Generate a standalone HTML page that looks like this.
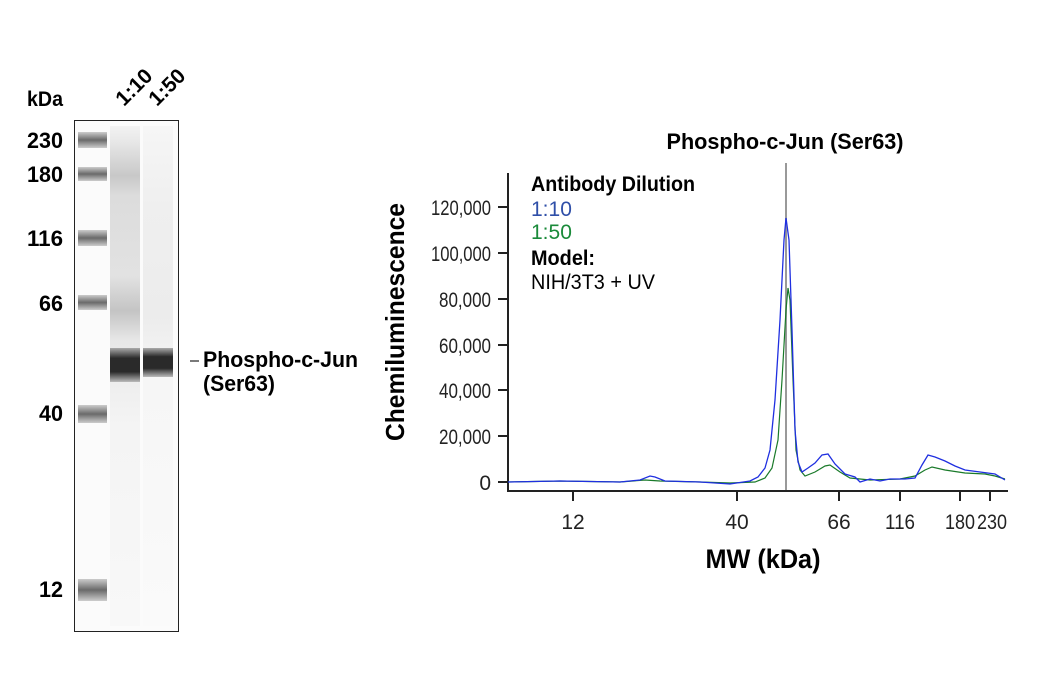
<!DOCTYPE html>
<html><head><style>
html,body{margin:0;padding:0;background:#fff;}
svg{display:block;}
text{font-family:"Liberation Sans Narrow","Liberation Sans",sans-serif;}
.b{font-weight:bold;}
</style></head><body>
<svg width="1040" height="700" viewBox="0 0 1040 700" xmlns="http://www.w3.org/2000/svg">
<defs>
<linearGradient id="l1" x1="0" y1="0" x2="0" y2="1">
<stop offset="0" stop-color="#f2f2f2"/>
<stop offset="0.03" stop-color="#e8e8e8"/>
<stop offset="0.1" stop-color="#c8c8c8"/>
<stop offset="0.14" stop-color="#dcdcdc"/>
<stop offset="0.3" stop-color="#e2e2e2"/>
<stop offset="0.37" stop-color="#c4c4c4"/>
<stop offset="0.43" stop-color="#e8e8e8"/>
<stop offset="0.6" stop-color="#f4f4f4"/>
<stop offset="1" stop-color="#f8f8f8"/>
</linearGradient>
<linearGradient id="l2" x1="0" y1="0" x2="0" y2="1">
<stop offset="0" stop-color="#f6f6f6"/>
<stop offset="0.16" stop-color="#efefef"/>
<stop offset="0.38" stop-color="#ececec"/>
<stop offset="0.5" stop-color="#f6f6f6"/>
<stop offset="1" stop-color="#fafafa"/>
</linearGradient>
<linearGradient id="band" x1="0" y1="0" x2="0" y2="1">
<stop offset="0" stop-color="#aaa"/><stop offset="0.3" stop-color="#2a2a2a"/><stop offset="0.7" stop-color="#2a2a2a"/><stop offset="1" stop-color="#bbb"/>
</linearGradient>
<linearGradient id="lad" x1="0" y1="0" x2="0" y2="1">
<stop offset="0" stop-color="#ccc"/><stop offset="0.5" stop-color="#6a6a6a"/><stop offset="1" stop-color="#ccc"/>
</linearGradient>
</defs>
<rect x="74.5" y="120.5" width="104" height="511" fill="#fbfbfb" stroke="#222" stroke-width="1"/>
<rect x="110" y="126" width="30" height="500" fill="url(#l1)"/>
<rect x="143" y="126" width="30" height="500" fill="url(#l2)"/>
<rect x="78" y="132" width="29" height="16" fill="url(#lad)"/>
<rect x="78" y="167" width="29" height="14" fill="url(#lad)"/>
<rect x="78" y="230" width="29" height="16" fill="url(#lad)"/>
<rect x="78" y="295" width="29" height="15" fill="url(#lad)"/>
<rect x="78" y="405" width="29" height="18" fill="url(#lad)"/>
<rect x="78" y="579" width="29" height="22" fill="url(#lad)"/>
<rect x="110" y="348" width="30" height="34" fill="url(#band)"/>
<rect x="143" y="348" width="30" height="29" fill="url(#band)"/>
<text x="27" y="106" class="b" font-size="21" textLength="36" lengthAdjust="spacingAndGlyphs">kDa</text>
<g class="b" font-size="22" text-anchor="end">
<text x="63" y="148" textLength="36" lengthAdjust="spacingAndGlyphs">230</text>
<text x="63" y="182" textLength="36" lengthAdjust="spacingAndGlyphs">180</text>
<text x="63" y="246" textLength="36" lengthAdjust="spacingAndGlyphs">116</text>
<text x="63" y="311" textLength="24" lengthAdjust="spacingAndGlyphs">66</text>
<text x="63" y="421" textLength="24" lengthAdjust="spacingAndGlyphs">40</text>
<text x="63" y="597" textLength="24" lengthAdjust="spacingAndGlyphs">12</text>
</g>
<text class="b" font-size="21" transform="translate(124,107) rotate(-45)">1:10</text>
<text class="b" font-size="21" transform="translate(157,107) rotate(-45)">1:50</text>
<line x1="190" y1="361" x2="199" y2="361" stroke="#222" stroke-width="1.2"/>
<text x="203" y="367" class="b" font-size="22" textLength="155" lengthAdjust="spacingAndGlyphs">Phospho-c-Jun</text>
<text x="203" y="391" class="b" font-size="22" textLength="72" lengthAdjust="spacingAndGlyphs">(Ser63)</text>
<text x="785" y="149" class="b" font-size="22" text-anchor="middle" textLength="237" lengthAdjust="spacingAndGlyphs">Phospho-c-Jun (Ser63)</text>
<text class="b" font-size="26" text-anchor="middle" transform="translate(404,322) rotate(-90)" textLength="238" lengthAdjust="spacingAndGlyphs">Chemiluminescence</text>
<text x="763" y="568" class="b" font-size="27" text-anchor="middle" textLength="115" lengthAdjust="spacingAndGlyphs">MW (kDa)</text>
<line x1="508" y1="173" x2="508" y2="492" stroke="#222" stroke-width="2"/>
<line x1="507" y1="491" x2="1008" y2="491" stroke="#222" stroke-width="2"/>
<g stroke="#222" stroke-width="2">
<line x1="498" y1="207" x2="508" y2="207"/><line x1="498" y1="253" x2="508" y2="253"/>
<line x1="498" y1="299" x2="508" y2="299"/><line x1="498" y1="345" x2="508" y2="345"/>
<line x1="498" y1="390" x2="508" y2="390"/><line x1="498" y1="436" x2="508" y2="436"/>
<line x1="498" y1="482" x2="508" y2="482"/>
<line x1="573" y1="491" x2="573" y2="501"/><line x1="737" y1="491" x2="737" y2="501"/>
<line x1="839" y1="491" x2="839" y2="501"/><line x1="900" y1="491" x2="900" y2="501"/>
<line x1="960" y1="491" x2="960" y2="501"/><line x1="990" y1="491" x2="990" y2="501"/>
</g>
<g font-size="21" text-anchor="end" fill="#222">
<text x="491" y="215" textLength="60" lengthAdjust="spacingAndGlyphs">120,000</text>
<text x="491" y="261" textLength="60" lengthAdjust="spacingAndGlyphs">100,000</text>
<text x="491" y="307" textLength="52" lengthAdjust="spacingAndGlyphs">80,000</text>
<text x="491" y="353" textLength="52" lengthAdjust="spacingAndGlyphs">60,000</text>
<text x="491" y="398" textLength="52" lengthAdjust="spacingAndGlyphs">40,000</text>
<text x="491" y="444" textLength="52" lengthAdjust="spacingAndGlyphs">20,000</text>
<text x="491" y="490">0</text>
</g>
<g font-size="21" text-anchor="middle" fill="#222">
<text x="573" y="529">12</text><text x="737" y="529">40</text><text x="839" y="529">66</text>
<text x="900" y="529" textLength="30" lengthAdjust="spacingAndGlyphs">116</text>
<text x="960" y="529" textLength="30" lengthAdjust="spacingAndGlyphs">180</text>
<text x="992" y="529" textLength="30" lengthAdjust="spacingAndGlyphs">230</text>
</g>
<text x="531" y="191" class="b" font-size="21" textLength="164" lengthAdjust="spacingAndGlyphs">Antibody Dilution</text>
<text x="531" y="216" font-size="21" fill="#2f4fa8">1:10</text>
<text x="531" y="239" font-size="21" fill="#1a8a3a">1:50</text>
<text x="531" y="265" class="b" font-size="21" textLength="64" lengthAdjust="spacingAndGlyphs">Model:</text>
<text x="531" y="289" font-size="21" textLength="124" lengthAdjust="spacingAndGlyphs">NIH/3T3 + UV</text>
<line x1="786" y1="163" x2="786" y2="490" stroke="#999" stroke-width="2"/>
<path fill="none" stroke="#1a7a2a" stroke-width="1.2" d="M508,482 L560,481 L620,482 L645,480 L660,481 L700,482 L730,483 L755,482 L765,478 L772,468 L778,440 L782,380 L786,310 L788,288 L790,300 L793,380 L796,450 L800,470 L805,476 L815,472 L825,466 L830,465 L840,472 L850,478 L870,480 L900,479 L915,476 L925,470 L932,467 L945,470 L965,473 L985,474 L995,476 L1005,479"/>
<path fill="none" stroke="#1f2fe0" stroke-width="1.3" d="M508,482 L560,481 L620,482 L640,480 L650,476 L655,477 L665,481 L700,482 L730,484 L750,481 L758,477 L765,468 L770,450 L775,400 L780,320 L784,240 L786,218 L789,240 L792,330 L795,430 L798,462 L802,472 L808,468 L815,463 L822,455 L828,454 L835,464 L845,474 L855,477 L860,482 L870,479 L880,481 L890,479 L905,479 L915,478 L922,465 L928,455 L935,457 L945,461 L955,466 L965,470 L980,472 L995,474 L1005,480"/>
</svg>
</body></html>
